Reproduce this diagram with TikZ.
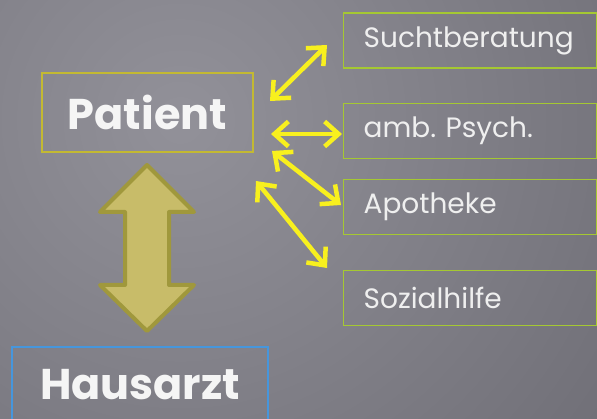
\documentclass[tikz,border=0pt]{standalone}
\usepackage{fontspec}
\setmainfont{Poppins}
\usetikzlibrary{arrows.meta}
\definecolor{bgin}{RGB}{146,145,153}
\definecolor{bgout}{RGB}{92,91,99}
\definecolor{olivebox}{RGB}{195,185,50}
\definecolor{greenbox}{RGB}{165,200,50}
\definecolor{bluebox}{RGB}{70,150,220}
\definecolor{arrowyellow}{RGB}{248,240,30}
\definecolor{bigfill}{RGB}{200,188,105}
\definecolor{bigedge}{RGB}{160,152,60}
\definecolor{txt}{RGB}{245,245,245}
\tikzset{
  mainbox/.style={draw=olivebox, line width=1.3pt, minimum width=211pt, minimum height=79pt,
    text=txt, font=\bfseries\fontsize{43}{43}\selectfont},
  docbox/.style={draw=bluebox, line width=1.3pt, minimum width=256pt, minimum height=76pt,
    text=txt, font=\bfseries\fontsize{43}{43}\selectfont},
  sidebox/.style={draw=greenbox, line width=1.3pt, anchor=west, minimum height=55pt,
    inner xsep=20pt, text width=213pt, align=left, text=txt!95!gray,
    font=\fontsize{28}{28}\selectfont},
  ya/.style={draw=arrowyellow, line width=4.5pt,
    {Straight Barb[length=14pt,width=25pt]}-{Straight Barb[length=14pt,width=25pt]}},
  bigarrow/.style={fill=bigfill, draw=bigedge, line width=4pt, line join=round}
}
\frenchspacing
\begin{document}
\begin{tikzpicture}[x=1pt,y=-1pt]
\useasboundingbox (0,0) rectangle (597,419);
\clip (0,0) rectangle (597,419);
\shade[inner color=bgin, outer color=bgout] (180,120) circle (840);

\node[mainbox] (patient) at (147.5,112.5) {Patient};
\node[docbox] (hausarzt) at (140,385) {Hausarzt};

\node[sidebox] (sucht) at (343,40.5) {Suchtberatung};
\node[sidebox] (psych) at (343,131) {amb. Psych.};
\node[sidebox] (apo) at (343,207) {Apotheke};
\node[sidebox] (sozial) at (343,298) {Sozialhilfe};

\coordinate (p1) at (270,101);
\coordinate (s1) at (327,45);
\coordinate (p2) at (271,134);
\coordinate (s2) at (342,134);
\coordinate (p3) at (272,151);
\coordinate (s3) at (341,205);
\coordinate (p4) at (256,181);
\coordinate (s4) at (327,268);

\draw[ya] (p1) -- (s1);
\draw[ya] (p2) -- (s2);
\draw[ya] (p3) -- (s3);
\draw[ya] (p4) -- (s4);

\draw[bigarrow] (147,165) -- (194,212) -- (169,212) -- (169,285) -- (194,285)
  -- (147,331) -- (100,285) -- (125,285) -- (125,212) -- (100,212) -- cycle;
\end{tikzpicture}
\end{document}
